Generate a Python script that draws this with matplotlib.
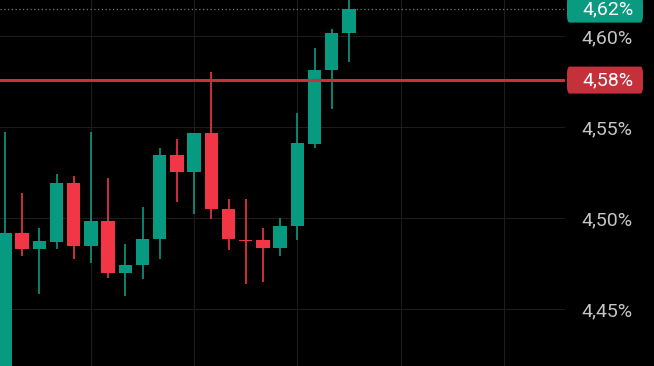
import matplotlib
matplotlib.use("Agg")
import matplotlib.pyplot as plt
from matplotlib.patches import FancyBboxPatch
from matplotlib.transforms import blended_transform_factory

# OHLC values (yield, %)
opens = [4.410, 4.4918, 4.4830, 4.4868, 4.5192, 4.4846, 4.4984, 4.4698, 4.4742, 4.4885,
         4.5346, 4.5253, 4.5467, 4.5049, 4.4880, 4.4879, 4.4835, 4.4956, 4.5407, 4.5813, 4.6016]
highs = [4.5473, 4.5137, 4.4945, 4.5242, 4.5231, 4.5473, 4.5220, 4.4857, 4.5060, 4.5385,
         4.5434, 4.5467, 4.5802, 4.5104, 4.5104, 4.4945, 4.5000, 4.5577, 4.5934, 4.6038, 4.6250]
lows = [4.400, 4.4791, 4.4582, 4.4830, 4.4775, 4.4753, 4.4670, 4.4571, 4.4665, 4.4775,
        4.5088, 4.5022, 4.4995, 4.4824, 4.4637, 4.4648, 4.4791, 4.4879, 4.5385, 4.5599, 4.5857]
closes = [4.4918, 4.4830, 4.4874, 4.5192, 4.4846, 4.4984, 4.4698, 4.4742, 4.4885, 4.5346,
          4.5253, 4.5467, 4.5049, 4.4885, 4.4876, 4.4835, 4.4956, 4.5412, 4.5813, 4.6016, 4.6148]

last_price = 4.6148
level = 4.5758
yticks = [4.45, 4.50, 4.55, 4.60]
ytick_labels = ["4,45%", "4,50%", "4,55%", "4,60%"]
xgrid = [5, 11, 17, 23, 29]

GREEN = "#089981"
RED = "#f23645"
BG = "#000000"

fig = plt.figure(figsize=(6.54, 3.66), dpi=100, facecolor=BG)
ax = fig.add_axes([0, 0, 565 / 654, 1])
ax.set_facecolor(BG)

for i, (o, h, l, c) in enumerate(zip(opens, highs, lows, closes)):
    col = GREEN if c >= o else RED
    ax.vlines(i, l, h, color=col, linewidth=1.2, zorder=3)
    bottom = min(o, c)
    height = max(abs(c - o), 0.0003)
    ax.bar(i, height, bottom=bottom, width=0.78, color=col, zorder=4)

ax.set_xlim(-0.29, 32.56)
ax.set_ylim(4.4187, 4.6198)

ax.set_yticks(yticks)
ax.set_yticklabels(ytick_labels)
ax.set_xticks(xgrid)
ax.grid(True, color="#1c1c1c", linewidth=0.8)
ax.yaxis.tick_right()
ax.tick_params(axis="y", length=0, pad=12, labelsize=14, labelcolor="#c4c4c4")
ax.tick_params(axis="x", length=0, labelbottom=False)
for lab in ax.get_yticklabels():
    lab.set_family("Roboto")
for s in ax.spines.values():
    s.set_visible(False)

ax.axhline(level, color="#c4323c", linewidth=2.2, zorder=5)
ax.axhline(last_price, color="#777777", linewidth=0.9, linestyle=(0, (1, 2)), zorder=2)

tr = blended_transform_factory(fig.transFigure, ax.transData)
box_h = 27 / 1820
for val, txt, col in [(last_price, "4,62%", "#0a9a80"), (level, "4,58%", "#c4313b")]:
    box = FancyBboxPatch((567 / 654, val - box_h / 2), 76 / 654, box_h,
                         boxstyle="round,pad=0,rounding_size=0.004",
                         transform=tr, facecolor=col, edgecolor="none",
                         clip_on=False, mutation_aspect=1)
    fig.patches.append(box)
    fig.text(608 / 654, val, txt, transform=tr, color="white", fontsize=14,
             family="Roboto", ha="center", va="center")

fig.savefig("out.png", dpi=100, facecolor=BG)
